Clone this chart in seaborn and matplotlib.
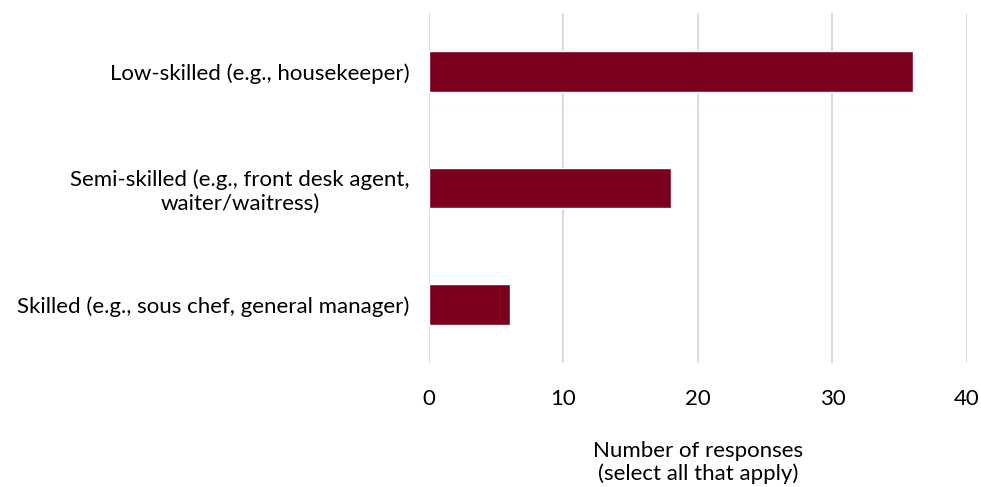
import matplotlib
matplotlib.use("Agg")
import matplotlib.pyplot as plt
import seaborn as sns
import pandas as pd

categories = [
    "Low-skilled (e.g., housekeeper)",
    "Semi-skilled (e.g., front desk agent,\nwaiter/waitress)",
    "Skilled (e.g., sous chef, general manager)",
]
responses = [36, 18, 6]
x_ticks = [0, 10, 20, 30, 40]

sns.set_theme(style="white")
plt.rcParams["font.family"] = ["Lato", "DejaVu Sans"]

df = pd.DataFrame({"category": categories, "responses": responses})

fig = plt.figure(figsize=(9.81, 4.87), dpi=100)
ax = fig.add_axes([0.4373, 0.2546, 0.5484, 0.7187])

sns.barplot(data=df, x="responses", y="category", orient="h",
            color="#7B001C", saturation=1, width=0.35, ax=ax, zorder=3)

ax.set_xlim(0, 40)
ax.set_ylim(2.5, -0.5)
ax.set_xticks(x_ticks)
ax.xaxis.grid(True, color="#D9D9D9", linewidth=1.3, zorder=0)
ax.yaxis.grid(False)
for s in ax.spines.values():
    s.set_visible(False)

fs = 16
ax.tick_params(axis="x", length=0, pad=19, labelsize=fs, labelcolor="#000000")
ax.tick_params(axis="y", length=0, pad=14, labelsize=fs, labelcolor="#000000")
for lbl in ax.get_yticklabels():
    lbl.set_multialignment("center")
    lbl.set_linespacing(1.2)

ax.set_ylabel("")
ax.set_xlabel("Number of responses\n(select all that apply)", fontsize=fs,
              color="#000000", labelpad=23, linespacing=1.15)

fig.savefig("out.png", dpi=100, facecolor="white")
